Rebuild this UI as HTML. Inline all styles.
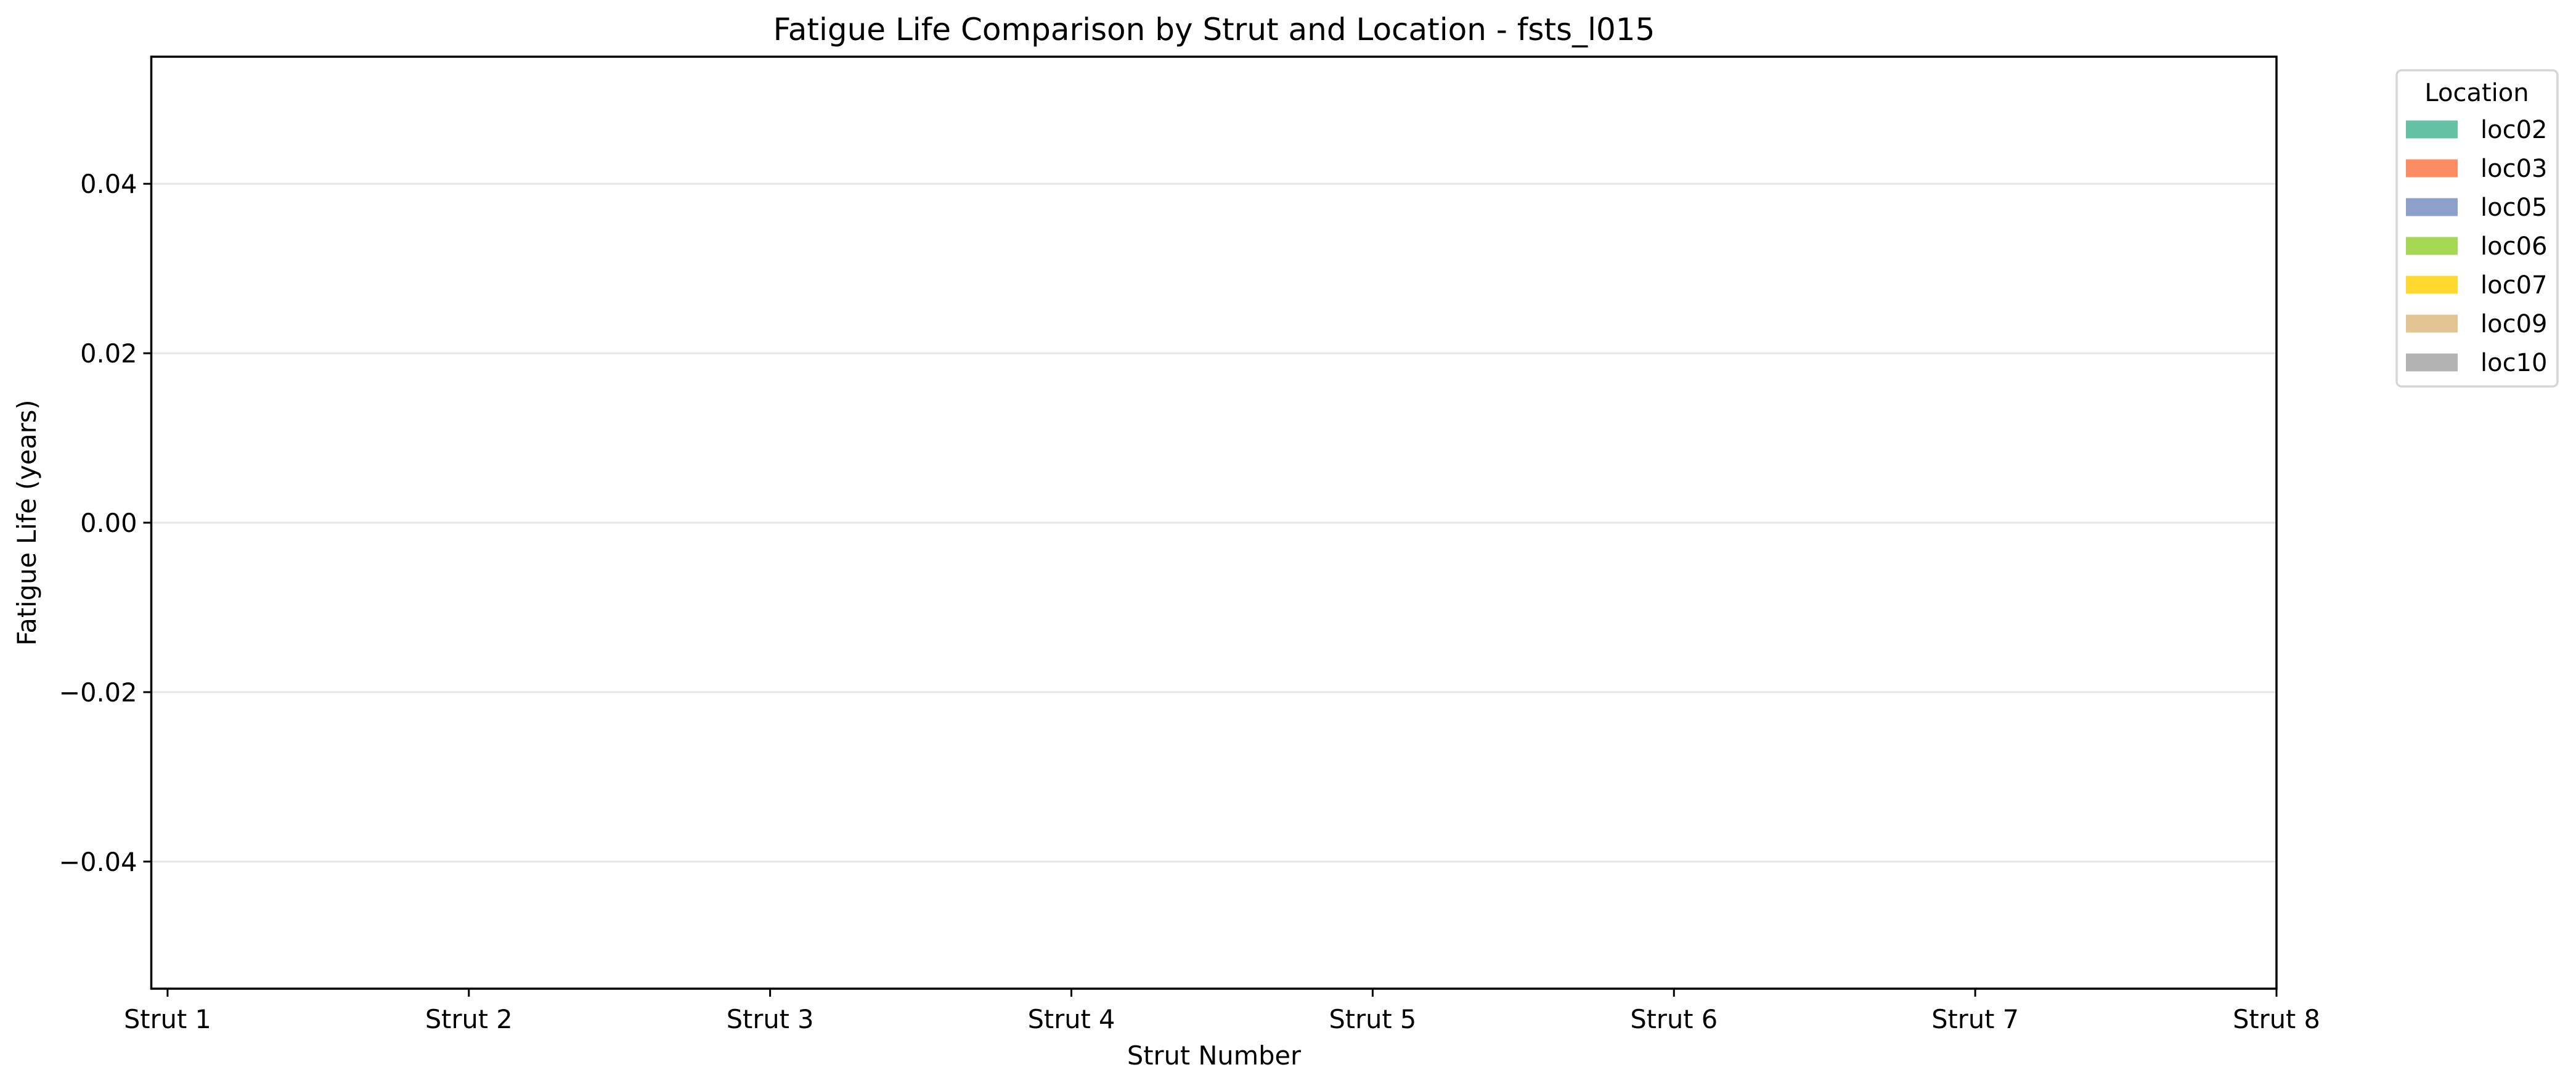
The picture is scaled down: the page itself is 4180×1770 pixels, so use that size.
<!DOCTYPE html>
<html><head><meta charset="utf-8"><style>
body{margin:0;background:#fff}
svg text{font-family:"DejaVu Sans","Liberation Sans",sans-serif;fill:#000}
</style></head><body>
<svg id="chart" width="4180" height="1765" viewBox="0 0 4180 1765" xmlns="http://www.w3.org/2000/svg">
<rect width="4180" height="1765" fill="#fff"/>
<text x="1970" y="65" font-size="50" text-anchor="middle">Fatigue Life Comparison by Strut and Location - fsts_l015</text>
<g id="grid"></g>
<g id="bars"></g>
<rect x="245.5" y="92" width="3448.5" height="1512" fill="none" stroke="#000" stroke-width="3.5"/>
<g id="yaxis"></g>
<g id="xaxis"></g>
<text transform="translate(58,848) rotate(-90)" font-size="41.5" text-anchor="middle">Fatigue Life (years)</text>
<text x="1970" y="1727" font-size="41.5" text-anchor="middle">Strut Number</text>
<g id="legend">
<rect x="3889" y="114" width="261" height="513" rx="8" fill="#fff" stroke="#d6d6d6" stroke-width="3.5"/>
<text x="4019" y="164" font-size="40" text-anchor="middle">Location</text>
</g>
</svg>
<script>
const categories=["Strut 1","Strut 2","Strut 3","Strut 4","Strut 5","Strut 6","Strut 7","Strut 8"];
const locations=["loc02","loc03","loc05","loc06","loc07","loc09","loc10"];
const colors=["#66c2a5","#fc8d62","#8da0cb","#a6d854","#ffd92f","#e5c494","#b3b3b3"];
const yTicks=[0.04,0.02,0.00,-0.02,-0.04];
const yTickLabels=["0.04","0.02","0.00","\u22120.02","\u22120.04"];
const values=[[],[],[],[],[],[],[]];
const NS="http://www.w3.org/2000/svg";
const X0=245.5,X1=3694,Y0=92,Y1=1604;
const yMin=-0.055,yMax=0.055;
const xMin=-0.054,xMax=7;
function sx(v){return X0+(v-xMin)/(xMax-xMin)*(X1-X0);}
function sy(v){return Y1-(v-yMin)/(yMax-yMin)*(Y1-Y0);}
function mk(tag,attrs,parent){const e=document.createElementNS(NS,tag);for(const k in attrs)e.setAttribute(k,attrs[k]);parent.appendChild(e);return e;}
const grid=document.getElementById('grid'),ya=document.getElementById('yaxis'),xa=document.getElementById('xaxis'),bars=document.getElementById('bars'),lg=document.getElementById('legend');
yTicks.forEach((t,i)=>{
  const y=sy(t);
  const g=mk('line',{x1:X0,x2:X1,y1:y,y2:y,stroke:'#e6e6e6','stroke-width':3},grid);
  
  
  const tk=mk('line',{x1:X0-13,x2:X0,y1:y,y2:y,stroke:'#000','stroke-width':3},ya);
  
  
  const tx=mk('text',{x:X0-23,y:y+15,'font-size':41.5,'text-anchor':'end'},ya);
  tx.textContent=yTickLabels[i];
  
  
});
categories.forEach((c,i)=>{
  const x=sx(i);
  const tk=mk('line',{x1:x,x2:x,y1:Y1,y2:Y1+13,stroke:'#000','stroke-width':3},xa);
  
  
  const tx=mk('text',{x:x,y:1668,'font-size':41.5,'text-anchor':'middle'},xa);
  tx.textContent=c;
  
  
});
const bw=0.8/locations.length;
locations.forEach((l,j)=>{
  values[j].forEach((v,i)=>{
    const x=sx(i-0.4+j*bw),w=sx(i-0.4+(j+1)*bw)-x;
    const r=mk('rect',{x:x,y:Math.min(sy(v),sy(0)),width:w,height:Math.abs(sy(v)-sy(0)),fill:colors[j]},bars);
    
    
  });
  const yc=210+j*63;
  const p=mk('rect',{x:3904,y:yc-14.5,width:84,height:29,fill:colors[j]},lg);
  
  
  const t=mk('text',{x:4025,y:yc+14,'font-size':40},lg);
  t.textContent=l;
  
  
});
</script>
</body></html>
